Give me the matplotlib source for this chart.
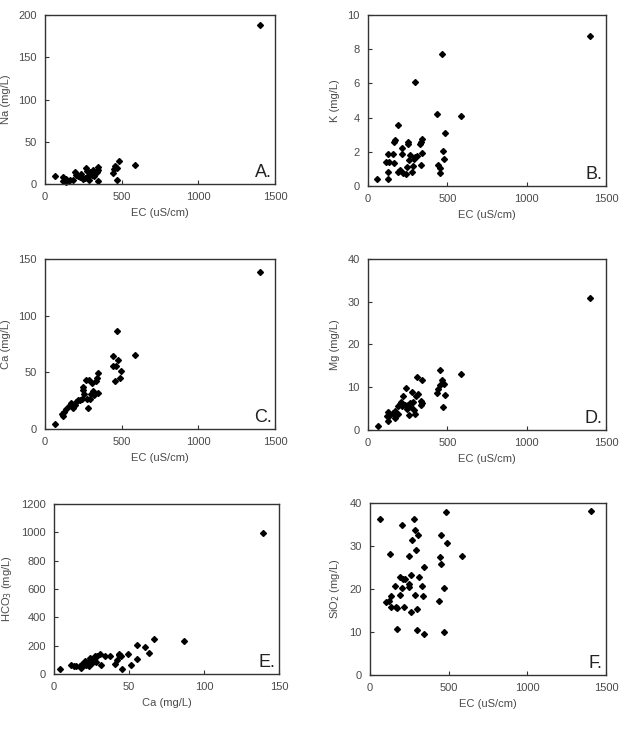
import matplotlib
matplotlib.use("Agg")
import matplotlib.pyplot as plt

plt.rcParams['font.family'] = ['Liberation Sans', 'DejaVu Sans']

# Panel A: EC vs Na
a_ec = [67, 119, 119, 135, 163, 180, 195, 202, 213, 228, 237, 250, 265, 271, 278, 289, 293, 304,
        315, 321, 336, 343, 345, 345, 441, 449, 456, 467, 471, 484, 586, 1400, 140, 150, 260]
a_na = [9, 7.9, 3.1, 2, 4.7, 5.1, 13.8, 11, 9.8, 8.3, 12.2, 6.3, 18.9, 15, 9.8, 4.3, 14.2, 10.2,
        16.1, 9.1, 13.8, 20, 16.1, 3.1, 13, 17.7, 20.9, 18.9, 4.7, 26.8, 22.4, 188, 5.5, 3.5, 7]

# Panel B: EC vs K
b_ec = [59, 124, 128, 114, 133, 126, 158, 166, 164, 173, 191, 191, 202, 212, 215, 223, 240, 244,
        250, 250, 257, 263, 280, 284, 290, 299, 307, 299, 330, 337, 343, 339, 335, 436, 440, 453,
        455, 469, 471, 484, 482, 587, 1399]
b_k = [0.43, 0.43, 0.8, 1.39, 1.41, 1.86, 1.88, 1.37, 2.6, 2.68, 3.54, 0.8, 0.92, 2.23, 1.88, 0.78,
       0.72, 1.08, 2.56, 2.43, 1.49, 1.82, 0.8, 1.17, 1.6, 1.68, 1.76, 6.07, 2.45, 2.58, 2.72, 1.94,
       1.23, 4.21, 1.21, 1.06, 0.76, 7.73, 2.03, 3.07, 1.6, 4.09, 8.79]

# Panel C: EC vs Ca
c_ec = [67, 113, 119, 126, 135, 156, 169, 182, 193, 202, 213, 228, 239, 245, 250, 254, 265, 271,
        280, 289, 293, 297, 304, 310, 321, 332, 336, 343, 347, 441, 445, 456, 462, 471, 478, 489,
        493, 586, 1404]
c_ca = [4.4, 13.5, 11.7, 14.7, 17.6, 20, 22.9, 18.5, 21.4, 23.8, 25.8, 25.2, 26.4, 36.7, 34, 31.1,
        43.4, 26.4, 18.2, 43.4, 26.4, 31.1, 40.5, 33.2, 30.2, 42, 44.9, 31.7, 49.3, 64, 55.2, 42,
        55.2, 86.6, 60.5, 44.9, 50.8, 65.7, 138.5]

# Panel D: EC vs Mg
d_ec = [65, 118, 126, 128, 134, 160, 170, 172, 191, 189, 200, 210, 214, 221, 231, 239, 246, 252,
        258, 267, 273, 280, 284, 288, 296, 303, 309, 313, 334, 336, 342, 338, 437, 441, 454, 452,
        466, 471, 477, 483, 586, 1401]
d_mg = [0.86, 3.2, 4.3, 2.1, 3.2, 4, 2.7, 4.5, 3.7, 5.5, 6.1, 6.5, 5.5, 7.9, 5.8, 9.7, 5, 5.9,
        3.4, 6.3, 5.4, 8.8, 6.6, 4.7, 3.8, 8, 12.4, 8.5, 6.8, 5.8, 11.7, 6.3, 8.6, 9.6, 10.4, 14.1,
        11.6, 5.3, 10.8, 8.2, 13.2, 30.8]

# Panel E: Ca vs HCO3
e_ca = [4.2, 11.3, 13.1, 14.6, 17.5, 18.2, 18.8, 19.7, 20.4, 21, 22.4, 23, 24.2, 24.8, 25.5, 26.4,
        27, 27.9, 28.6, 30.8, 31, 34.1, 37.4, 40.8, 41.9, 43, 43.5, 44.5, 45.2, 49, 51.2, 55, 55,
        60.7, 63.6, 66.5, 86.9, 139.4]
e_hco3 = [35, 61, 54, 59, 54, 42, 73, 66, 89, 61, 82, 59, 113, 89, 77, 101, 124, 82, 129, 141, 66,
          124, 124, 73, 101, 132, 141, 124, 35, 143, 66, 108, 207, 188, 150, 247, 232, 993]

# Panel F: EC vs SiO2
f_ec = [64, 206, 280, 481, 1403, 284, 307, 269, 290, 451, 487, 127, 248, 443, 585, 453, 343, 193,
        210, 225, 261, 309, 159, 206, 246, 246, 330, 472, 119, 131, 131, 193, 284, 337, 163, 172,
        216, 261, 301, 441, 172, 299, 345, 468, 104]
f_sio2 = [36.3, 34.8, 36.3, 37.9, 38.1, 33.6, 32.6, 31.4, 29, 32.6, 30.7, 28.2, 27.6, 27.4, 27.6,
          25.9, 25, 22.7, 22.4, 22.4, 23.2, 22.7, 20.6, 20.3, 21.2, 20.4, 20.6, 20.3, 17.2, 18.3,
          15.9, 18.6, 18.6, 18.3, 15.9, 15.6, 15.9, 14.6, 15.4, 17.2, 10.6, 10.4, 9.5, 10.1, 16.9]

panels = [
    dict(x=a_ec, y=a_na, xlim=(0, 1500), xt=[0, 500, 1000, 1500], ylim=(0, 200), yt=[0, 50, 100, 150, 200],
         xl="EC (uS/cm)", yl="Na (mg/L)", tag="A.", pos=[0.0726, 0.7476, 0.371, 0.2318]),
    dict(x=b_ec, y=b_k, xlim=(0, 1500), xt=[0, 500, 1000, 1500], ylim=(0, 10), yt=[0, 2, 4, 6, 8, 10],
         xl="EC (uS/cm)", yl="K (mg/L)", tag="B.", pos=[0.5935, 0.7449, 0.384, 0.2346]),
    dict(x=c_ec, y=c_ca, xlim=(0, 1500), xt=[0, 500, 1000, 1500], ylim=(0, 150), yt=[0, 50, 100, 150],
         xl="EC (uS/cm)", yl="Ca (mg/L)", tag="C.", pos=[0.0726, 0.4115, 0.371, 0.2332]),
    dict(x=d_ec, y=d_mg, xlim=(0, 1500), xt=[0, 500, 1000, 1500], ylim=(0, 40), yt=[0, 10, 20, 30, 40],
         xl="EC (uS/cm)", yl="Mg (mg/L)", tag="D.", pos=[0.5935, 0.4102, 0.384, 0.2346]),
    dict(x=e_ca, y=e_hco3, xlim=(0, 150), xt=[0, 50, 100, 150], ylim=(0, 1200),
         yt=[0, 200, 400, 600, 800, 1000, 1200],
         xl="Ca (mg/L)", yl="HCO$_3$ (mg/L)", tag="E.", pos=[0.0871, 0.0754, 0.363, 0.2332]),
    dict(x=f_ec, y=f_sio2, xlim=(0, 1500), xt=[0, 500, 1000, 1500], ylim=(0, 40), yt=[0, 10, 20, 30, 40],
         xl="EC (uS/cm)", yl="SiO$_2$ (mg/L)", tag="F.", pos=[0.5968, 0.0741, 0.3806, 0.236]),
]

txt = "#4a4a4a"
fig = plt.figure(figsize=(6.2, 7.29), dpi=100)
for p in panels:
    ax = fig.add_axes(p["pos"])
    ax.plot(p["x"], p["y"], linestyle="none", marker="D", markersize=3.0, color="black", clip_on=False)
    ax.set_xlim(*p["xlim"])
    ax.set_ylim(*p["ylim"])
    ax.set_xticks(p["xt"])
    ax.set_yticks(p["yt"])
    ax.tick_params(direction="in", length=3, width=0.8, colors="#333333", labelcolor=txt,
                   labelsize=8, pad=6)
    for s in ax.spines.values():
        s.set_color("#333333")
        s.set_linewidth(1.0)
    ax.set_xlabel(p["xl"], fontsize=8, color=txt, labelpad=4)
    ax.set_ylabel(p["yl"], fontsize=8, color=txt, labelpad=5)
    ax.text(0.985, 0.02, p["tag"], transform=ax.transAxes, ha="right", va="bottom",
            fontsize=13, color="#222222")

fig.savefig("out.png", dpi=100)
